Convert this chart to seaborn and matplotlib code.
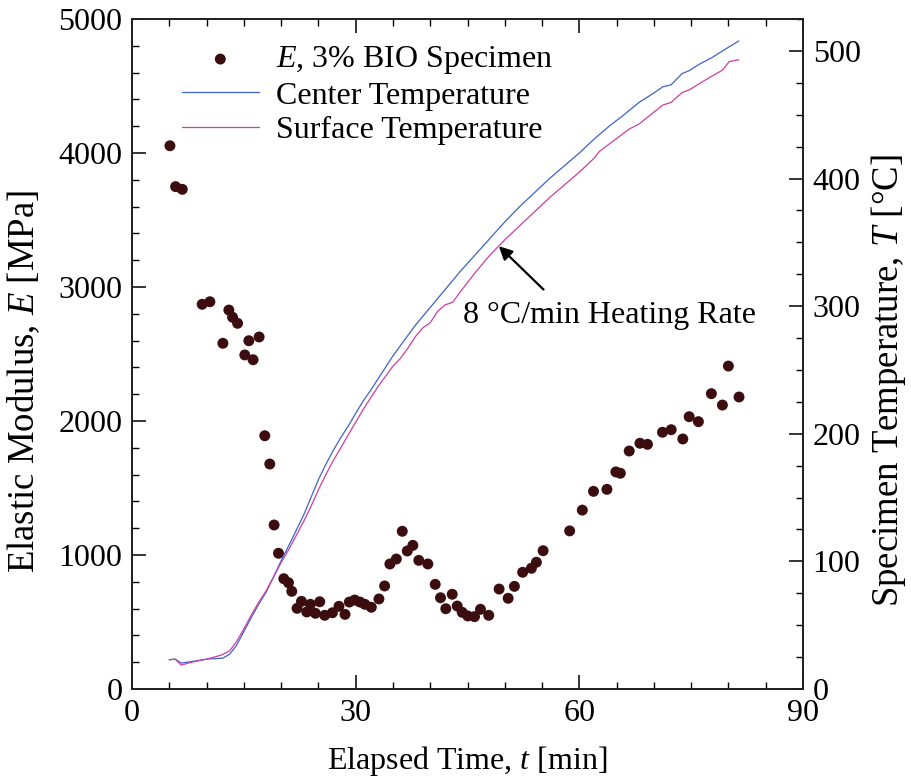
import numpy as np
import pandas as pd
import matplotlib
matplotlib.use('Agg')
import matplotlib.pyplot as plt
from matplotlib.ticker import MultipleLocator
import seaborn as sns

# ---------------- data ----------------
e_time = [5.09, 5.85, 6.74, 9.41, 10.45, 12.19, 12.99, 13.49, 14.16, 15.13,
          15.67, 16.24, 17.05, 17.81, 18.48, 19.06, 19.65, 20.36, 20.99, 21.43,
          22.14, 22.73, 23.44, 23.93, 24.60, 25.18, 25.85, 26.88, 27.76, 28.57,
          29.15, 29.87, 30.57, 31.24, 32.10, 33.12, 33.88, 34.59, 35.45, 36.25,
          36.92, 37.67, 38.47, 39.68, 40.67, 41.38, 42.09, 42.95, 43.62, 44.29,
          45.04, 45.94, 46.74, 47.85, 49.24, 50.45, 51.29, 52.40, 53.57, 54.24,
          55.14, 58.7, 60.4, 61.9, 63.7, 64.9, 65.5, 66.69, 68.13, 69.14,
          71.15, 72.32, 73.88, 74.73, 75.97, 77.71, 79.19, 79.99, 81.42]
e_modulus = [4054, 3749, 3729, 2871, 2890, 2580, 2828, 2774, 2729, 2493,
             2599, 2457, 2627, 1890, 1679, 1224, 1013, 823, 793, 729,
             602, 654, 575, 632, 565, 651, 550, 569, 617, 557,
             649, 664, 649, 632, 610, 672, 769, 933, 970, 1177,
             1030, 1072, 960, 933, 781, 681, 599, 707, 619, 572,
             545, 540, 595, 550, 746, 677, 766, 871, 901, 946,
             1032, 1180, 1335, 1475, 1490, 1620, 1610, 1776, 1834, 1826,
             1916, 1935, 1866, 2032, 1995, 2204, 2119, 2410, 2179]

center_time = [5.0, 5.8, 6.6, 8.0, 10.0, 12.2, 13.1, 14, 15, 16, 17, 18, 19, 20,
               21, 22, 23, 24, 25, 26, 27, 28, 29, 30, 31, 32, 33, 34, 35, 36,
               37, 38, 39, 40, 42, 44, 46, 48, 50, 52, 54, 56, 58, 60, 62, 64,
               66, 68, 70, 71.2, 72.3, 73.8, 74.7, 76.1, 77.8, 79.2, 81.4]
center_temp = [22.9, 23.4, 20.3, 21.5, 23.4, 24.2, 27.3, 34, 45, 56, 66.5, 76, 88, 100.5,
               112, 124, 136, 150, 164, 176, 187, 197, 206, 216, 225.5, 234, 243, 252, 261, 269,
               277, 285, 292, 299, 313, 327, 340, 353, 366, 378, 389, 400, 410, 420, 431, 441,
               450, 459.6, 467, 471.9, 473.4, 482.3, 484.4, 489.6, 494.8, 500, 507.8]

surface_time = [5.0, 5.8, 6.6, 8.0, 10.0, 12.0, 13.1, 14, 15, 16, 17, 18, 19, 20,
                21, 22, 23, 24, 25, 26, 27, 28, 29, 30, 31, 32, 33, 34, 35, 36,
                37, 38, 39, 40, 41, 42, 43, 44, 46, 48, 50, 52, 54, 56, 58, 60,
                62, 62.7, 64, 66.7, 68, 70, 71.2, 72.3, 73.8, 74.7, 76, 78, 79.2, 80.1, 81.4]
surface_temp = [22.9, 23.4, 18.7, 21.0, 23.4, 26.6, 29.9, 37, 47, 58, 68, 77, 88, 99,
                109, 120, 131, 143, 156, 168, 179, 189, 199, 209, 219, 228, 237, 245, 253, 259,
                267, 276, 283, 287, 296, 301, 303, 311, 326, 340, 352, 363, 374, 385, 395, 405,
                416, 421.3, 427, 438.8, 442.7, 452, 457.6, 459.6, 467.4, 469.3, 474, 481, 484.9, 491.6, 493]

legend_labels = [r'$E$, 3% BIO Specimen', 'Center Temperature', 'Surface Temperature']

# ---------------- style ----------------
sns.set_style('ticks')
plt.rcParams['font.family'] = ['Liberation Serif', 'DejaVu Serif']
plt.rcParams['mathtext.fontset'] = 'custom'
plt.rcParams['mathtext.rm'] = 'Liberation Serif'
plt.rcParams['mathtext.it'] = 'Liberation Serif:italic'
for k in ['text.color', 'axes.labelcolor', 'xtick.color', 'ytick.color', 'axes.edgecolor']:
    plt.rcParams[k] = 'black'
FS = 23
FSY = 26.5

W, H = 911, 781
fig = plt.figure(figsize=(W / 100, H / 100), dpi=100)
ax = fig.add_axes([132/W, 1-689/H, 671/W, 670/H])
ax2 = ax.twinx()

dot_color = '#3b0d0f'
blue = '#3f62cc'
pink = '#cc3fa0'

sns.scatterplot(x=e_time, y=e_modulus, ax=ax, color=dot_color, s=62,
                edgecolor='none', linewidth=0, legend=False, zorder=3)
sns.lineplot(x=center_time, y=center_temp, ax=ax2, color=blue, lw=0.9,
             estimator=None, sort=False, legend=False)
sns.lineplot(x=surface_time, y=surface_temp, ax=ax2, color=pink, lw=0.9,
             estimator=None, sort=False, legend=False)

ax.set_xlim(0, 90)
ax.set_ylim(0, 5000)
ax2.set_ylim(0, 525)

ax.xaxis.set_major_locator(MultipleLocator(30))
ax.xaxis.set_minor_locator(MultipleLocator(5))
ax.yaxis.set_major_locator(MultipleLocator(1000))
ax.yaxis.set_minor_locator(MultipleLocator(200))
ax2.yaxis.set_major_locator(MultipleLocator(100))
ax2.yaxis.set_minor_locator(MultipleLocator(25))

for a in (ax, ax2):
    a.tick_params(which='major', direction='in', length=10, width=1.1, labelsize=FS, pad=7)
    a.tick_params(which='minor', direction='in', length=5, width=1.0)
    for s in a.spines.values():
        s.set_linewidth(1.3)
        s.set_color('#222222')
ax.tick_params(axis='x', which='both', top=True, bottom=True)
ax.tick_params(axis='y', which='both', left=True, right=False)
ax2.tick_params(axis='y', which='both', left=False, right=True)

ax.set_xlabel(r'Elapsed Time, $t$ [min]', fontsize=FS, labelpad=12)
ax.set_ylabel(r'Elastic Modulus, $E$ [MPa]', fontsize=FSY, labelpad=6)
ax2.set_ylabel(r'Specimen Temperature, $T$ [°C]', fontsize=FSY, labelpad=6)

# annotation
ax2.annotate('', xy=(49.2, 347), xytext=(55.2, 313),
             arrowprops=dict(arrowstyle='-|>', color='black', lw=1.6,
                             mutation_scale=20, shrinkA=0, shrinkB=0))
ax2.text(83.7, 287, '8 °C/min Heating Rate', ha='right', va='baseline', fontsize=FS)

handles = [ax.collections[0], ax2.lines[0], ax2.lines[1]]
ax2.legend(handles, legend_labels, loc='upper left', bbox_to_anchor=(0.0745, 0.962),
           frameon=False, fontsize=FS, borderpad=0, borderaxespad=0,
           handlelength=2.4, handletextpad=0.55, labelspacing=0.15, markerscale=1.0)

# fine-tune y-label placement (shift in pixels, centre them lower like the reference)
fig.canvas.draw()
target_y = H - 381  # display y of label centre
for a, label, dx in ((ax, ax.yaxis.label, -8), (ax2, ax2.yaxis.label, 0)):
    px, py = label.get_position()
    inv = a.transAxes.inverted()
    nx, ny = inv.transform((px + dx, target_y))
    a.yaxis.set_label_coords(nx, ny)

fig.savefig('out.png', dpi=100)
